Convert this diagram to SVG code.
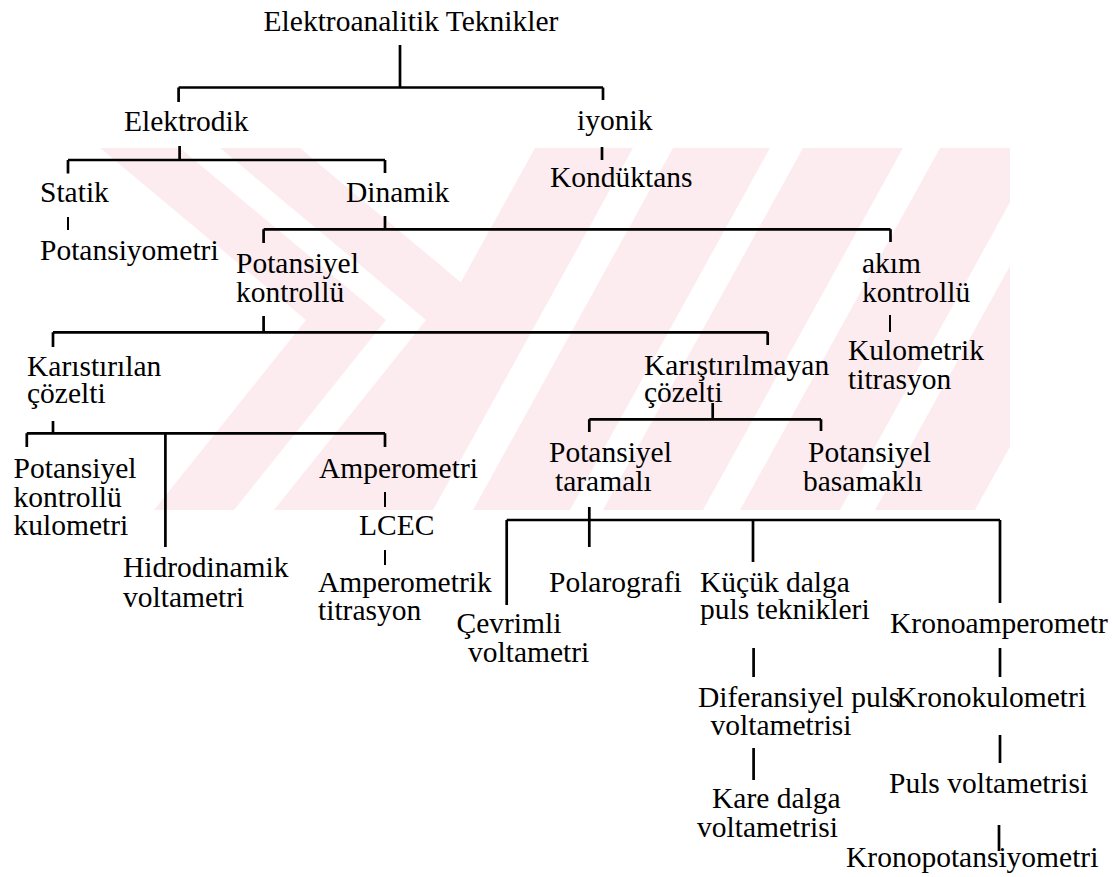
<svg xmlns="http://www.w3.org/2000/svg" width="1112" height="877" viewBox="0 0 1112 877">
<defs>
<style>
text{font-family:"Liberation Serif","Times New Roman",serif;font-size:29.5px;fill:#000}
.c{stroke:#000;stroke-width:2.7;fill:none;stroke-linecap:butt}
.t{stroke:#000;stroke-width:2;fill:none}
.wm{fill:#fdecef}
</style>
<clipPath id="wmclip"><rect x="100" y="148" width="910" height="362"/></clipPath>
</defs>
<rect width="1112" height="877" fill="#fff"/>
<g id="watermark" clip-path="url(#wmclip)">
<polygon class="wm" points="100,148 180,148 386,320 234,510 154,510 306,320"/>
<polygon class="wm" points="220,148 300,148 506,320 354,510 274,510 426,320"/>
<polygon class="wm" points="535,148 633,148 433,510 335,510"/>
<polygon class="wm" points="673,148 770,148 570,510 473,510"/>
<polygon class="wm" points="803,148 903,148 703,510 603,510"/>
<polygon class="wm" points="940,148 1040,148 840,510 740,510"/>
<polygon class="wm" points="1075,148 1175,148 975,510 875,510"/>
</g>
<g id="connectors">
<path class="c" d="M400,45V87.5M178.6,87.5H603M178.6,87.5V102M603,87.5V100"/>
<path class="c" d="M179.6,146V160M68,160H385M68,160V173.5M385,160V173"/>
<path class="c" d="M602,147V160"/>
<path class="t" d="M68,217V230"/>
<path class="c" d="M385,216V229.3M263.6,229.3H890.5M263.6,229.3V243M890.5,229.3V242"/>
<path class="c" d="M263.6,316V332.3M53,332.3H767.7M53,332.3V347M767.7,332.3V345"/>
<path class="t" d="M890,315V332"/>
<path class="c" d="M53,421V433.3M26.8,433.3H385M26.8,433.3V447M165.4,433.3V547M385,433.3V447"/>
<path class="t" d="M385,492V507M385,550V565"/>
<path class="c" d="M712.7,403V419.3M589.3,419.3H821M589.3,419.3V432M821,419.3V431"/>
<path class="c" d="M589.3,507V547M506.7,520H1000M506.7,520V605M753,520V562M1000,520V603"/>
<path class="c" d="M753.6,648V677M753.6,748V780"/>
<path class="c" d="M1000,648V677M1000,735V763M999,825V851"/>
</g>
<g id="root"><text x="263.6" y="31">Elektroanalitik Teknikler</text></g>
<g id="elektrodik"><text x="124" y="131">Elektrodik</text></g>
<g id="iyonik"><text x="577" y="130">iyonik</text></g>
<g id="statik"><text x="40" y="202">Statik</text></g>
<g id="dinamik"><text x="346" y="202">Dinamik</text></g>
<g id="konduktans"><text x="550" y="187">Kondüktans</text></g>
<g id="potansiyometri"><text x="40" y="260">Potansiyometri</text></g>
<g id="potansiyel-kontrollu"><text x="236" y="273">Potansiyel</text><text x="236" y="302">kontrollü</text></g>
<g id="akim-kontrollu"><text x="862" y="272.5">akım</text><text x="862" y="302">kontrollü</text></g>
<g id="karistirilan"><text x="27" y="376">Karıstırılan</text><text x="27" y="403">çözelti</text></g>
<g id="kulometrik-titrasyon"><text x="848" y="360">Kulometrik</text><text x="848" y="388.5">titrasyon</text></g>
<g id="karistirilmayan"><text x="644" y="375">Karıştırılmayan</text><text x="644" y="402">çözelti</text></g>
<g id="potansiyel-kontrollu-kulometri"><text x="13.6" y="478">Potansiyel</text><text x="13.6" y="507">kontrollü</text><text x="13.6" y="535">kulometri</text></g>
<g id="amperometri"><text x="319" y="478">Amperometri</text></g>
<g id="lcec"><text x="359" y="535">LCEC</text></g>
<g id="hidrodinamik"><text x="123" y="577">Hidrodinamik</text><text x="123" y="607">voltametri</text></g>
<g id="amperometrik"><text x="318" y="592">Amperometrik</text><text x="318" y="619.5">titrasyon</text></g>
<g id="potansiyel-taramali"><text x="549" y="462">Potansiyel</text><text x="555" y="491">taramalı</text></g>
<g id="potansiyel-basamakli"><text x="808" y="462">Potansiyel</text><text x="803" y="491">basamaklı</text></g>
<g id="polarografi"><text x="549" y="592">Polarografi</text></g>
<g id="kucuk-dalga"><text x="700" y="592">Küçük dalga</text><text x="700" y="619">puls teknikleri</text></g>
<g id="cevrimli"><text x="456.5" y="633">Çevrimli</text><text x="468" y="662">voltametri</text></g>
<g id="kronoamperometr"><text x="890" y="633">Kronoamperometr</text></g>
<g id="diferansiyel"><text x="698" y="707">Diferansiyel puls</text><text x="710.6" y="735">voltametrisi</text></g>
<g id="kronokulometri"><text x="896" y="707">Kronokulometri</text></g>
<g id="kare-dalga"><text x="712" y="808">Kare dalga</text><text x="697" y="837">voltametrisi</text></g>
<g id="puls-voltametrisi"><text x="889" y="793">Puls voltametrisi</text></g>
<g id="kronopotansiyometri"><text x="846" y="867">Kronopotansiyometri</text></g>
</svg>
